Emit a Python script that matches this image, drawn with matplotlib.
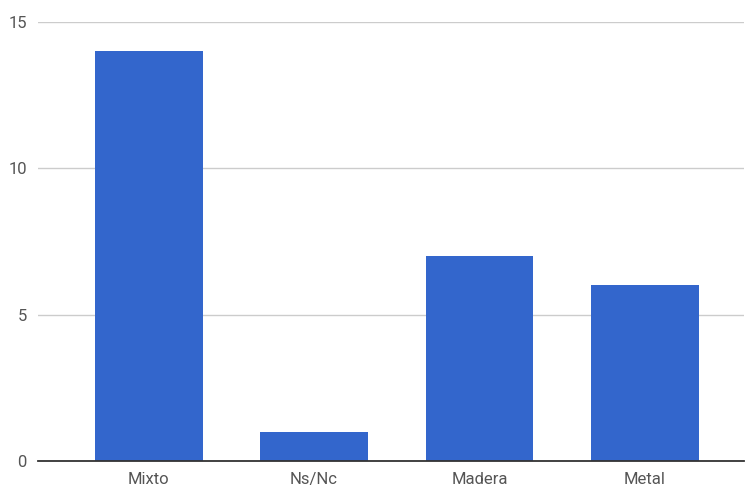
import matplotlib
matplotlib.use("Agg")
import matplotlib.pyplot as plt

categories = ["Mixto", "Ns/Nc", "Madera", "Metal"]
values = [14, 1, 7, 6]
yticks = [0, 5, 10, 15]

plt.rcParams['font.family'] = ['Roboto', 'DejaVu Sans']

W, H = 745, 490
fig = plt.figure(figsize=(W/100, H/100), dpi=100)
ax = fig.add_axes([38/W, (H-461)/H, (744-38)/W, (461-22)/H])

x = list(range(len(categories)))
ax.bar(x, values, width=0.65, color="#3366CC", zorder=3)

ax.set_ylim(0, 15)
ax.set_xlim(-0.67, 3.6)
ax.set_yticks(yticks)
ax.set_yticklabels([str(t) for t in yticks])
ax.set_xticks(x)
ax.set_xticklabels(categories)

for s in ["top", "right", "left"]:
    ax.spines[s].set_visible(False)
ax.spines["bottom"].set_color("#333333")
ax.spines["bottom"].set_linewidth(1.3)
ax.spines["bottom"].set_zorder(4)

ax.yaxis.grid(True, color="#cccccc", linewidth=1, zorder=0)
ax.tick_params(axis="both", length=0, labelsize=12, labelcolor="#555555")
ax.tick_params(axis="y", pad=8)
ax.tick_params(axis="x", pad=8)

fig.savefig("out.png", dpi=100)
